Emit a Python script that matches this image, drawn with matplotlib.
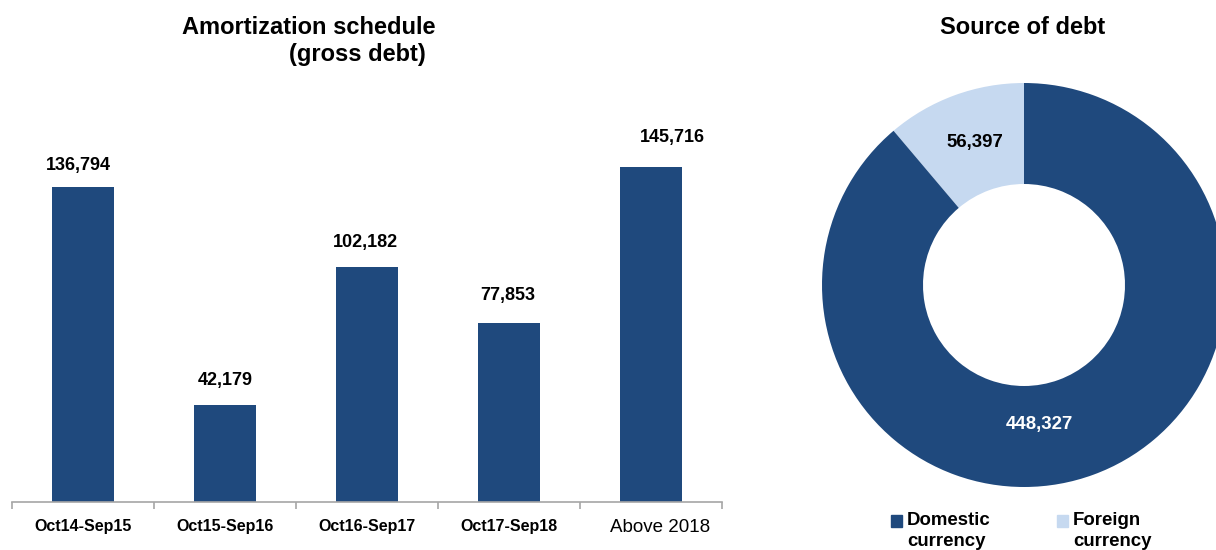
import matplotlib
matplotlib.use("Agg")
import matplotlib.pyplot as plt
import matplotlib.transforms as mtransforms
from matplotlib.ticker import FixedLocator

plt.rcParams['font.family'] = ['Liberation Sans', 'DejaVu Sans']

periods = ["Oct14-Sep15", "Oct15-Sep16", "Oct16-Sep17", "Oct17-Sep18", "Above 2018"]
amortization = [136794, 42179, 102182, 77853, 145716]

sources = ["Foreign\ncurrency", "Domestic\ncurrency"]
source_values = [56397, 448327]

DARK = "#1f497d"
LIGHT = "#c6d9f0"

W, H = 1216, 550
fig = plt.figure(figsize=(W / 100, H / 100), dpi=100)

# ---- Bar chart ----
ax = fig.add_axes([12 / W, 48 / H, 710 / W, 402.5 / H])
x = list(range(len(periods)))
ax.bar(x, amortization, width=0.44, color=DARK, zorder=2)
ax.set_xlim(-0.5, len(periods) - 0.5)
ax.set_ylim(0, 175000)
for s in ["top", "right", "left"]:
    ax.spines[s].set_visible(False)
ax.spines["bottom"].set_color("#a6a6a6")
ax.spines["bottom"].set_linewidth(1.2)
ax.set_yticks([])
ax.set_xticks(x)
ax.set_xticklabels(periods)
ax.xaxis.set_minor_locator(FixedLocator([i - 0.5 for i in range(len(periods) + 1)]))
ax.tick_params(axis="x", which="major", length=0, pad=12)
ax.tick_params(axis="x", which="minor", length=5, color="#a6a6a6", width=1.2, direction="out")
for i, lbl in enumerate(ax.get_xticklabels()):
    if i == len(periods) - 1:
        lbl.set_fontsize(13.5)
        lbl.set_fontweight("normal")
        lbl.set_transform(lbl.get_transform() +
                          mtransforms.ScaledTranslation(9 / 100, 0, fig.dpi_scale_trans))
    else:
        lbl.set_fontsize(11.5)
        lbl.set_fontweight("bold")

label_dx = [-0.03, 0, -0.01, -0.01, 0.15]
label_dy_px = [22, 24, 24, 27, 29]
for i, v in enumerate(amortization):
    ax.annotate(f"{v:,}", (i + label_dx[i], v), xytext=(0, label_dy_px[i] * 0.72),
                textcoords="offset points", ha="center", va="center",
                fontsize=13, fontweight="bold", color="black")

fig.text(309 / W, 1 - 27 / H, "Amortization schedule", ha="center", va="center",
         fontsize=17, fontweight="bold")
fig.text(357 / W, 1 - 55 / H, "(gross debt)", ha="center", va="center",
         fontsize=17, fontweight="bold")

# ---- Donut ----
pax = fig.add_axes([822 / W, 63 / H, 404 / W, 404 / H])
pax.pie(source_values, colors=[LIGHT, DARK], startangle=90, counterclock=True,
        radius=1, wedgeprops=dict(width=0.5, linewidth=0))
pax.set_xlim(-1, 1)
pax.set_ylim(-1, 1)
pax.set_aspect("equal")
pax.axis("off")
pax.text(-0.243, 0.703, f"{source_values[0]:,}", ha="center", va="center",
         fontsize=13.4, fontweight="bold", color="black")
pax.text(0.074, -0.693, f"{source_values[1]:,}", ha="center", va="center",
         fontsize=13.4, fontweight="bold", color="white")

fig.text(1023 / W, 1 - 28 / H, "Source of debt", ha="center", va="center",
         fontsize=17, fontweight="bold")

# legend
fig.patches.append(plt.Rectangle((891 / W, 1 - 527 / H), 11 / W, 12 / H,
                                 transform=fig.transFigure, color=DARK))
fig.text(907 / W, 1 - 512 / H, "Domestic\ncurrency", ha="left", va="top",
         fontsize=13.4, fontweight="bold", linespacing=1.28)
fig.patches.append(plt.Rectangle((1057 / W, 1 - 527 / H), 11 / W, 12 / H,
                                 transform=fig.transFigure, color=LIGHT))
fig.text(1073 / W, 1 - 512 / H, "Foreign\ncurrency", ha="left", va="top",
         fontsize=13.4, fontweight="bold", linespacing=1.28)

fig.savefig("out.png", dpi=100)
